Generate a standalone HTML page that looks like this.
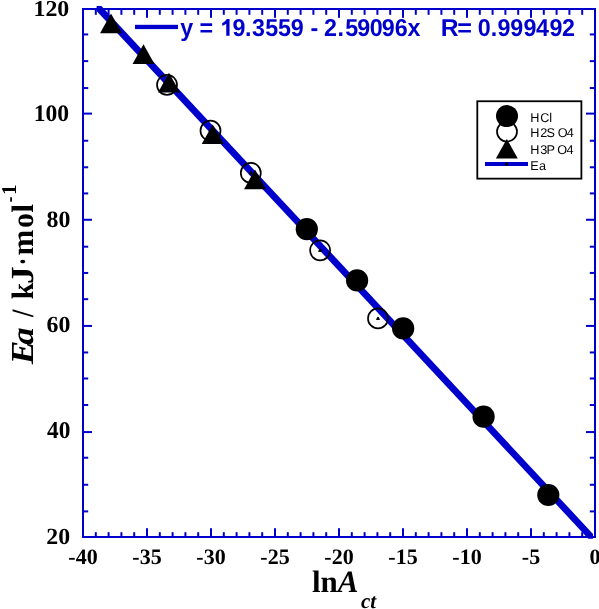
<!DOCTYPE html>
<html><head><meta charset="utf-8"><style>
html,body{margin:0;padding:0;background:#fff;}
svg{display:block;will-change:transform;text-rendering:geometricPrecision;}
</style></head><body>
<svg width="599" height="609" viewBox="0 0 599 609">
<rect x="82" y="8" width="514" height="2" fill="#0000cc"/>
<rect x="82" y="536" width="514" height="2" fill="#0000cc"/>
<rect x="82" y="8" width="2" height="530" fill="#0000cc"/>
<rect x="594" y="8" width="2" height="530" fill="#0000cc"/>
<rect x="94.80" y="532.20" width="2" height="3.80" fill="#0000cc"/>
<rect x="94.80" y="10" width="2" height="4.80" fill="#0000cc"/>
<rect x="107.60" y="532.20" width="2" height="3.80" fill="#0000cc"/>
<rect x="107.60" y="10" width="2" height="4.80" fill="#0000cc"/>
<rect x="120.40" y="532.20" width="2" height="3.80" fill="#0000cc"/>
<rect x="120.40" y="10" width="2" height="4.80" fill="#0000cc"/>
<rect x="133.20" y="532.20" width="2" height="3.80" fill="#0000cc"/>
<rect x="133.20" y="10" width="2" height="4.80" fill="#0000cc"/>
<rect x="146.00" y="528.20" width="2" height="7.80" fill="#0000cc"/>
<rect x="146.00" y="10" width="2" height="7.80" fill="#0000cc"/>
<rect x="158.80" y="532.20" width="2" height="3.80" fill="#0000cc"/>
<rect x="158.80" y="10" width="2" height="4.80" fill="#0000cc"/>
<rect x="171.60" y="532.20" width="2" height="3.80" fill="#0000cc"/>
<rect x="171.60" y="10" width="2" height="4.80" fill="#0000cc"/>
<rect x="184.40" y="532.20" width="2" height="3.80" fill="#0000cc"/>
<rect x="184.40" y="10" width="2" height="4.80" fill="#0000cc"/>
<rect x="197.20" y="532.20" width="2" height="3.80" fill="#0000cc"/>
<rect x="197.20" y="10" width="2" height="4.80" fill="#0000cc"/>
<rect x="210.00" y="528.20" width="2" height="7.80" fill="#0000cc"/>
<rect x="210.00" y="10" width="2" height="7.80" fill="#0000cc"/>
<rect x="222.80" y="532.20" width="2" height="3.80" fill="#0000cc"/>
<rect x="222.80" y="10" width="2" height="4.80" fill="#0000cc"/>
<rect x="235.60" y="532.20" width="2" height="3.80" fill="#0000cc"/>
<rect x="235.60" y="10" width="2" height="4.80" fill="#0000cc"/>
<rect x="248.40" y="532.20" width="2" height="3.80" fill="#0000cc"/>
<rect x="248.40" y="10" width="2" height="4.80" fill="#0000cc"/>
<rect x="261.20" y="532.20" width="2" height="3.80" fill="#0000cc"/>
<rect x="261.20" y="10" width="2" height="4.80" fill="#0000cc"/>
<rect x="274.00" y="528.20" width="2" height="7.80" fill="#0000cc"/>
<rect x="274.00" y="10" width="2" height="7.80" fill="#0000cc"/>
<rect x="286.80" y="532.20" width="2" height="3.80" fill="#0000cc"/>
<rect x="286.80" y="10" width="2" height="4.80" fill="#0000cc"/>
<rect x="299.60" y="532.20" width="2" height="3.80" fill="#0000cc"/>
<rect x="299.60" y="10" width="2" height="4.80" fill="#0000cc"/>
<rect x="312.40" y="532.20" width="2" height="3.80" fill="#0000cc"/>
<rect x="312.40" y="10" width="2" height="4.80" fill="#0000cc"/>
<rect x="325.20" y="532.20" width="2" height="3.80" fill="#0000cc"/>
<rect x="325.20" y="10" width="2" height="4.80" fill="#0000cc"/>
<rect x="338.00" y="528.20" width="2" height="7.80" fill="#0000cc"/>
<rect x="338.00" y="10" width="2" height="7.80" fill="#0000cc"/>
<rect x="350.80" y="532.20" width="2" height="3.80" fill="#0000cc"/>
<rect x="350.80" y="10" width="2" height="4.80" fill="#0000cc"/>
<rect x="363.60" y="532.20" width="2" height="3.80" fill="#0000cc"/>
<rect x="363.60" y="10" width="2" height="4.80" fill="#0000cc"/>
<rect x="376.40" y="532.20" width="2" height="3.80" fill="#0000cc"/>
<rect x="376.40" y="10" width="2" height="4.80" fill="#0000cc"/>
<rect x="389.20" y="532.20" width="2" height="3.80" fill="#0000cc"/>
<rect x="389.20" y="10" width="2" height="4.80" fill="#0000cc"/>
<rect x="402.00" y="528.20" width="2" height="7.80" fill="#0000cc"/>
<rect x="402.00" y="10" width="2" height="7.80" fill="#0000cc"/>
<rect x="414.80" y="532.20" width="2" height="3.80" fill="#0000cc"/>
<rect x="414.80" y="10" width="2" height="4.80" fill="#0000cc"/>
<rect x="427.60" y="532.20" width="2" height="3.80" fill="#0000cc"/>
<rect x="427.60" y="10" width="2" height="4.80" fill="#0000cc"/>
<rect x="440.40" y="532.20" width="2" height="3.80" fill="#0000cc"/>
<rect x="440.40" y="10" width="2" height="4.80" fill="#0000cc"/>
<rect x="453.20" y="532.20" width="2" height="3.80" fill="#0000cc"/>
<rect x="453.20" y="10" width="2" height="4.80" fill="#0000cc"/>
<rect x="466.00" y="528.20" width="2" height="7.80" fill="#0000cc"/>
<rect x="466.00" y="10" width="2" height="7.80" fill="#0000cc"/>
<rect x="478.80" y="532.20" width="2" height="3.80" fill="#0000cc"/>
<rect x="478.80" y="10" width="2" height="4.80" fill="#0000cc"/>
<rect x="491.60" y="532.20" width="2" height="3.80" fill="#0000cc"/>
<rect x="491.60" y="10" width="2" height="4.80" fill="#0000cc"/>
<rect x="504.40" y="532.20" width="2" height="3.80" fill="#0000cc"/>
<rect x="504.40" y="10" width="2" height="4.80" fill="#0000cc"/>
<rect x="517.20" y="532.20" width="2" height="3.80" fill="#0000cc"/>
<rect x="517.20" y="10" width="2" height="4.80" fill="#0000cc"/>
<rect x="530.00" y="528.20" width="2" height="7.80" fill="#0000cc"/>
<rect x="530.00" y="10" width="2" height="7.80" fill="#0000cc"/>
<rect x="542.80" y="532.20" width="2" height="3.80" fill="#0000cc"/>
<rect x="542.80" y="10" width="2" height="4.80" fill="#0000cc"/>
<rect x="555.60" y="532.20" width="2" height="3.80" fill="#0000cc"/>
<rect x="555.60" y="10" width="2" height="4.80" fill="#0000cc"/>
<rect x="568.40" y="532.20" width="2" height="3.80" fill="#0000cc"/>
<rect x="568.40" y="10" width="2" height="4.80" fill="#0000cc"/>
<rect x="581.20" y="532.20" width="2" height="3.80" fill="#0000cc"/>
<rect x="581.20" y="10" width="2" height="4.80" fill="#0000cc"/>
<rect x="84" y="510.40" width="4.20" height="2" fill="#0000cc"/>
<rect x="589.80" y="510.40" width="4.20" height="2" fill="#0000cc"/>
<rect x="84" y="483.76" width="4.20" height="2" fill="#0000cc"/>
<rect x="589.80" y="483.76" width="4.20" height="2" fill="#0000cc"/>
<rect x="84" y="456.72" width="4.20" height="2" fill="#0000cc"/>
<rect x="589.80" y="456.72" width="4.20" height="2" fill="#0000cc"/>
<rect x="84" y="431.08" width="8.00" height="2" fill="#0000cc"/>
<rect x="586.00" y="431.08" width="8.00" height="2" fill="#0000cc"/>
<rect x="84" y="404.04" width="4.20" height="2" fill="#0000cc"/>
<rect x="589.80" y="404.04" width="4.20" height="2" fill="#0000cc"/>
<rect x="84" y="377.50" width="4.20" height="2" fill="#0000cc"/>
<rect x="589.80" y="377.50" width="4.20" height="2" fill="#0000cc"/>
<rect x="84" y="351.46" width="4.20" height="2" fill="#0000cc"/>
<rect x="589.80" y="351.46" width="4.20" height="2" fill="#0000cc"/>
<rect x="84" y="324.92" width="8.00" height="2" fill="#0000cc"/>
<rect x="586.00" y="324.92" width="8.00" height="2" fill="#0000cc"/>
<rect x="84" y="298.18" width="4.20" height="2" fill="#0000cc"/>
<rect x="589.80" y="298.18" width="4.20" height="2" fill="#0000cc"/>
<rect x="84" y="271.94" width="4.20" height="2" fill="#0000cc"/>
<rect x="589.80" y="271.94" width="4.20" height="2" fill="#0000cc"/>
<rect x="84" y="245.70" width="4.20" height="2" fill="#0000cc"/>
<rect x="589.80" y="245.70" width="4.20" height="2" fill="#0000cc"/>
<rect x="84" y="218.76" width="8.00" height="2" fill="#0000cc"/>
<rect x="586.00" y="218.76" width="8.00" height="2" fill="#0000cc"/>
<rect x="84" y="192.42" width="4.20" height="2" fill="#0000cc"/>
<rect x="589.80" y="192.42" width="4.20" height="2" fill="#0000cc"/>
<rect x="84" y="166.28" width="4.20" height="2" fill="#0000cc"/>
<rect x="589.80" y="166.28" width="4.20" height="2" fill="#0000cc"/>
<rect x="84" y="139.74" width="4.20" height="2" fill="#0000cc"/>
<rect x="589.80" y="139.74" width="4.20" height="2" fill="#0000cc"/>
<rect x="84" y="112.60" width="8.00" height="2" fill="#0000cc"/>
<rect x="586.00" y="112.60" width="8.00" height="2" fill="#0000cc"/>
<rect x="84" y="87.06" width="4.20" height="2" fill="#0000cc"/>
<rect x="589.80" y="87.06" width="4.20" height="2" fill="#0000cc"/>
<rect x="84" y="60.12" width="4.20" height="2" fill="#0000cc"/>
<rect x="589.80" y="60.12" width="4.20" height="2" fill="#0000cc"/>
<rect x="84" y="33.43" width="4.20" height="2" fill="#0000cc"/>
<rect x="589.80" y="33.43" width="4.20" height="2" fill="#0000cc"/>
<polygon points="96.60,6.10 101.40,6.10 593.00,533.90 593.00,538.70 588.20,538.70 96.60,10.90" fill="#0000cc"/>
<circle cx="167.0" cy="84.8" r="10.0" fill="none" stroke="#000" stroke-width="1.7"/><polygon points="167.00,83.30 168.50,85.90 165.50,85.90" fill="#000" stroke="#000" stroke-width="1.0" stroke-linejoin="round"/>
<circle cx="210.5" cy="130.7" r="10.0" fill="none" stroke="#000" stroke-width="1.7"/><polygon points="210.50,129.20 212.00,131.80 209.00,131.80" fill="#000" stroke="#000" stroke-width="1.0" stroke-linejoin="round"/>
<circle cx="250.8" cy="172.9" r="10.0" fill="none" stroke="#000" stroke-width="1.7"/><polygon points="250.80,171.40 252.30,174.00 249.30,174.00" fill="#000" stroke="#000" stroke-width="1.0" stroke-linejoin="round"/>
<circle cx="320.1" cy="250.3" r="10.0" fill="none" stroke="#000" stroke-width="1.7"/><polygon points="320.10,248.80 321.60,251.40 318.60,251.40" fill="#000" stroke="#000" stroke-width="1.0" stroke-linejoin="round"/>
<circle cx="378.0" cy="318.4" r="10.0" fill="none" stroke="#000" stroke-width="1.7"/><polygon points="378.00,316.90 379.50,319.50 376.50,319.50" fill="#000" stroke="#000" stroke-width="1.0" stroke-linejoin="round"/>
<polygon points="111.00,13.60 121.95,33.20 100.05,33.20" fill="#000"/>
<polygon points="143.50,44.30 154.45,63.90 132.55,63.90" fill="#000"/>
<polygon points="169.00,72.80 179.95,92.40 158.05,92.40" fill="#000"/>
<polygon points="212.70,124.50 223.65,144.10 201.75,144.10" fill="#000"/>
<polygon points="255.00,169.60 265.95,189.20 244.05,189.20" fill="#000"/>
<circle cx="306.8" cy="229.15" r="11.1" fill="#000"/>
<circle cx="357.1" cy="280.4" r="11.1" fill="#000"/>
<circle cx="403.15" cy="328.4" r="11.1" fill="#000"/>
<circle cx="483.6" cy="416.7" r="11.1" fill="#000"/>
<circle cx="548.3" cy="495.0" r="11.1" fill="#000"/>
<rect x="135" y="24.8" width="43" height="4.3" fill="#0000cc"/>
<text transform="translate(180.37,35.8) scale(1.0,1.05)" font-family="Liberation Sans" font-weight="bold" font-size="23.3" fill="#0000cc">y</text>
<text transform="translate(199.58,35.8) scale(1.0,1.05)" font-family="Liberation Sans" font-weight="bold" font-size="23.3" fill="#0000cc">=</text>
<text transform="translate(232.54,35.8) scale(1.0,1.05)" font-family="Liberation Sans" font-weight="bold" font-size="23.3" fill="#0000cc">9</text>
<text transform="translate(244.97,35.8) scale(1.0,1.05)" font-family="Liberation Sans" font-weight="bold" font-size="23.3" fill="#0000cc">.</text>
<text transform="translate(252.02,35.8) scale(1.0,1.05)" font-family="Liberation Sans" font-weight="bold" font-size="23.3" fill="#0000cc">3</text>
<text transform="translate(265.33,35.8) scale(1.0,1.05)" font-family="Liberation Sans" font-weight="bold" font-size="23.3" fill="#0000cc">5</text>
<text transform="translate(277.93,35.8) scale(1.0,1.05)" font-family="Liberation Sans" font-weight="bold" font-size="23.3" fill="#0000cc">5</text>
<text transform="translate(290.84,35.8) scale(1.0,1.05)" font-family="Liberation Sans" font-weight="bold" font-size="23.3" fill="#0000cc">9</text>
<text transform="translate(310.54,35.8) scale(1.0,1.05)" font-family="Liberation Sans" font-weight="bold" font-size="23.3" fill="#0000cc">-</text>
<text transform="translate(323.94,35.8) scale(1.0,1.05)" font-family="Liberation Sans" font-weight="bold" font-size="23.3" fill="#0000cc">2</text>
<text transform="translate(337.47,35.8) scale(1.0,1.05)" font-family="Liberation Sans" font-weight="bold" font-size="23.3" fill="#0000cc">.</text>
<text transform="translate(345.13,35.8) scale(1.0,1.05)" font-family="Liberation Sans" font-weight="bold" font-size="23.3" fill="#0000cc">5</text>
<text transform="translate(357.34,35.8) scale(1.0,1.05)" font-family="Liberation Sans" font-weight="bold" font-size="23.3" fill="#0000cc">9</text>
<text transform="translate(369.63,35.8) scale(1.0,1.05)" font-family="Liberation Sans" font-weight="bold" font-size="23.3" fill="#0000cc">0</text>
<text transform="translate(381.74,35.8) scale(1.0,1.05)" font-family="Liberation Sans" font-weight="bold" font-size="23.3" fill="#0000cc">9</text>
<text transform="translate(394.80,35.8) scale(1.0,1.05)" font-family="Liberation Sans" font-weight="bold" font-size="23.3" fill="#0000cc">6</text>
<text transform="translate(407.49,35.8) scale(1.0,1.05)" font-family="Liberation Sans" font-weight="bold" font-size="23.3" fill="#0000cc">x</text>
<text transform="translate(440.69,35.8) scale(1.06,1.05)" font-family="Liberation Sans" font-weight="bold" font-size="23.3" fill="#0000cc">R</text>
<text transform="translate(457.18,35.8) scale(1.08,1.05)" font-family="Liberation Sans" font-weight="bold" font-size="23.3" fill="#0000cc">=</text>
<text transform="translate(477.63,35.8) scale(1.0,1.05)" font-family="Liberation Sans" font-weight="bold" font-size="23.3" fill="#0000cc">0</text>
<text transform="translate(490.77,35.8) scale(1.0,1.05)" font-family="Liberation Sans" font-weight="bold" font-size="23.3" fill="#0000cc">.</text>
<text transform="translate(497.54,35.8) scale(1.0,1.05)" font-family="Liberation Sans" font-weight="bold" font-size="23.3" fill="#0000cc">9</text>
<text transform="translate(510.14,35.8) scale(1.0,1.05)" font-family="Liberation Sans" font-weight="bold" font-size="23.3" fill="#0000cc">9</text>
<text transform="translate(523.54,35.8) scale(1.0,1.05)" font-family="Liberation Sans" font-weight="bold" font-size="23.3" fill="#0000cc">9</text>
<text transform="translate(535.90,35.8) scale(1.0,1.05)" font-family="Liberation Sans" font-weight="bold" font-size="23.3" fill="#0000cc">4</text>
<text transform="translate(549.44,35.8) scale(1.0,1.05)" font-family="Liberation Sans" font-weight="bold" font-size="23.3" fill="#0000cc">9</text>
<text transform="translate(562.04,35.8) scale(1.0,1.05)" font-family="Liberation Sans" font-weight="bold" font-size="23.3" fill="#0000cc">2</text>
<path d="M229.55 19.0 L229.55 35.8 L226.25 35.8 L226.25 23.7 Q224.4 25.2 222.2 25.7 L222.2 22.9 Q223.7 22.3 224.9 21.3 Q226.2 20.1 226.85 19.0 Z" fill="#0000cc"/>
<rect x="477.3" y="101.25" width="104.1" height="77.4" fill="none" stroke="#000" stroke-width="1.8"/>
<circle cx="507.0" cy="116.1" r="11.0" fill="#000"/>
<circle cx="507.0" cy="131.6" r="10.0" fill="none" stroke="#000" stroke-width="1.7"/>
<polygon points="506.80,138.90 517.75,158.50 495.85,158.50" fill="#000"/>
<rect x="485" y="162" width="43" height="4" fill="#0000cc"/>
<polygon points="506.50,162.50 508.00,165.10 505.00,165.10" fill="#000" stroke="#000" stroke-width="1.0" stroke-linejoin="round"/>
<text x="530.16 540.16 549.34" y="121.8" font-family="Liberation Sans" font-size="12.7" fill="#000">HCl</text>
<text x="530.16 540.16 546.52 557.70 566.81" y="136.6" font-family="Liberation Sans" font-size="12.7" fill="#000">H2SO4</text>
<text x="530.16 540.32 546.46 557.30 566.41" y="154.0" font-family="Liberation Sans" font-size="12.7" fill="#000">H3PO4</text>
<text x="530.16 539.06" y="169.7" font-family="Liberation Sans" font-size="12.7" fill="#000">Ea</text>
<text transform="translate(33.44,15.83) scale(0.9951,0.9478)" font-family="Liberation Serif" font-weight="bold" font-size="24" fill="#000">120</text>
<text transform="translate(33.66,121.02) scale(0.9830,0.9879)" font-family="Liberation Serif" font-weight="bold" font-size="24" fill="#000">100</text>
<text transform="translate(46.56,226.82) scale(0.9960,0.9756)" font-family="Liberation Serif" font-weight="bold" font-size="24" fill="#000">80</text>
<text transform="translate(46.53,332.42) scale(0.9948,0.9632)" font-family="Liberation Serif" font-weight="bold" font-size="24" fill="#000">60</text>
<text transform="translate(47.03,438.11) scale(0.9733,1.0065)" font-family="Liberation Serif" font-weight="bold" font-size="24" fill="#000">40</text>
<text transform="translate(46.35,543.52) scale(0.9919,0.9632)" font-family="Liberation Serif" font-weight="bold" font-size="24" fill="#000">20</text>
<text x="83.00" y="564" text-anchor="middle" font-family="Liberation Serif" font-weight="bold" font-size="22" fill="#000">-40</text>
<text x="147.00" y="564" text-anchor="middle" font-family="Liberation Serif" font-weight="bold" font-size="22" fill="#000">-35</text>
<text x="211.00" y="564" text-anchor="middle" font-family="Liberation Serif" font-weight="bold" font-size="22" fill="#000">-30</text>
<text x="275.00" y="564" text-anchor="middle" font-family="Liberation Serif" font-weight="bold" font-size="22" fill="#000">-25</text>
<text x="339.00" y="564" text-anchor="middle" font-family="Liberation Serif" font-weight="bold" font-size="22" fill="#000">-20</text>
<text x="403.00" y="564" text-anchor="middle" font-family="Liberation Serif" font-weight="bold" font-size="22" fill="#000">-15</text>
<text x="467.00" y="564" text-anchor="middle" font-family="Liberation Serif" font-weight="bold" font-size="22" fill="#000">-10</text>
<text x="531.00" y="564" text-anchor="middle" font-family="Liberation Serif" font-weight="bold" font-size="22" fill="#000">-5</text>
<text x="595.00" y="564" text-anchor="middle" font-family="Liberation Serif" font-weight="bold" font-size="22" fill="#000">0</text>
<text transform="translate(32.6,364.19) rotate(-90) scale(1.144,1.035)" font-family="Liberation Serif" font-weight="bold" font-style="italic" font-size="31.0" fill="#000">E</text>
<text transform="translate(32.6,344.66) rotate(-90) scale(1.118,1.0)" font-family="Liberation Serif" font-weight="bold" font-style="italic" font-size="31.0" fill="#000">a</text>
<text transform="translate(32.6,317.09) rotate(-90) scale(0.856,1.0)" font-family="Liberation Serif" font-weight="bold" font-size="31.0" fill="#000">/</text>
<text transform="translate(32.6,299.19) rotate(-90) scale(0.956,1.0)" font-family="Liberation Serif" font-weight="bold" font-size="31.0" fill="#000">k</text>
<text transform="translate(32.6,283.92) rotate(-90) scale(1.137,1.04)" font-family="Liberation Serif" font-weight="bold" font-size="31.0" fill="#000">J</text>
<text transform="translate(32.6,264.99) rotate(-90) scale(0.696,1.0)" font-family="Liberation Serif" font-weight="bold" font-size="31.0" fill="#000">·</text>
<text transform="translate(32.6,255.58) rotate(-90)" font-family="Liberation Serif" font-weight="bold" font-size="31.0" fill="#000">m</text>
<text transform="translate(32.6,228.08) rotate(-90) scale(0.959,1.0)" font-family="Liberation Serif" font-weight="bold" font-size="31.0" fill="#000">o</text>
<text transform="translate(32.6,212.77) rotate(-90) scale(1.030,1.0)" font-family="Liberation Serif" font-weight="bold" font-size="31.0" fill="#000">l</text>
<text transform="translate(15.5,202.41) rotate(-90) scale(0.862,1.0)" font-family="Liberation Serif" font-weight="bold" font-size="21.0" fill="#000">-</text>
<text transform="translate(15.5,195.12) rotate(-90)" font-family="Liberation Serif" font-weight="bold" font-size="21.0" fill="#000">1</text>
<text x="312" y="592.3" font-family="Liberation Serif" font-weight="bold" font-size="31" fill="#000">ln<tspan font-style="italic">A</tspan><tspan font-style="italic" font-size="21" dx="2.5" dy="15.3">ct</tspan></text>
</svg>
</body></html>
